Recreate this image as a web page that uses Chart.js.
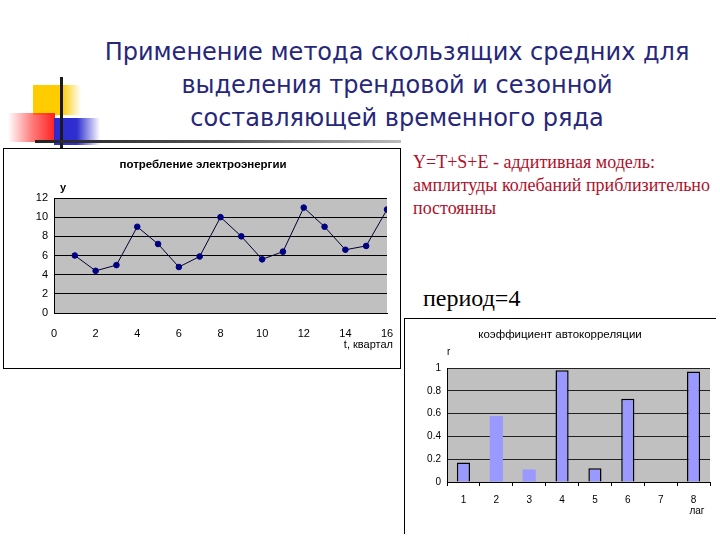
<!DOCTYPE html>
<html><head><meta charset="utf-8">
<script src="https://cdn.jsdelivr.net/npm/chart.js@4"></script>
<style>
html,body{margin:0;padding:0;background:#fff;width:720px;height:540px;overflow:hidden;position:relative;font-family:"Liberation Sans",Arial,sans-serif}
.abs{position:absolute}
#title{left:0;top:36px;width:794px;text-align:center;font-family:"DejaVu Sans",sans-serif;font-size:24px;line-height:33px;color:#26267a;white-space:nowrap}
#model{left:413px;top:151px;width:310px;font-family:"Liberation Serif",serif;font-size:18px;line-height:23px;color:#b0102a;white-space:nowrap}
#period{left:423px;top:285px;font-family:"Liberation Serif",serif;font-size:24px;color:#000}
.box{box-sizing:border-box}
</style></head><body>
<div class="abs" style="left:33px;top:85px;width:48px;height:30px;background:linear-gradient(to right,#ffcc00 0,#ffcc00 60%,rgba(255,204,0,0) 100%)"></div>
<div class="abs" style="left:8px;top:113px;width:47px;height:29px;background:linear-gradient(to left,#ff2020 0,rgba(255,40,40,0.6) 50%,rgba(255,60,60,0) 100%)"></div>
<div class="abs" style="left:54px;top:118px;width:46px;height:27px;background:linear-gradient(to right,#2a2ad0 0,#3030d0 50%,rgba(50,50,210,0) 100%)"></div>
<div class="abs" style="left:60px;top:77px;width:3px;height:71px;background:#1a1a1a"></div>
<div class="abs" style="left:35px;top:140px;width:366px;height:3px;background:linear-gradient(to right,#222 0,#555 50%,#bbb 100%)"></div>
<div id="title" class="abs">Применение метода скользящих средних для<br>выделения трендовой и сезонной<br>составляющей временного ряда</div>
<div id="model" class="abs">Y=T+S+E - аддитивная модель:<br>амплитуды колебаний приблизительно<br>постоянны</div>
<div id="period" class="abs">период=4</div>
<div class="abs box" style="left:3px;top:148px;width:398px;height:221px;border:1px solid #000"><div style="position:relative;width:396px;height:219px"><canvas id="c1"></canvas></div></div>
<div class="abs box" style="left:404px;top:318px;width:312px;height:216px;border-left:1px solid #000;border-top:1px solid #000"><div style="position:relative;width:310px;height:214px;margin-top:0"><canvas id="c2"></canvas></div></div>
<script>
// data
const quarters = [1,2,3,4,5,6,7,8,9,10,11,12,13,14,15,16];
const consumption = [6.0,4.4,5.0,9.0,7.2,4.8,5.9,10.0,8.0,5.6,6.4,11.0,9.0,6.6,7.0,10.8];
const lags = ['1','2','3','4','5','6','7','8'];
const acf = [0.17,0.58,0.11,0.98,0.12,0.73,0,0.97];
const lineTitle = 'потребление электроэнергии';
const barTitle = 'коэффициент автокорреляции';

const decor = {
  id:'decor',
  beforeDraw(chart, args, o){
    const {ctx, chartArea:a} = chart;
    ctx.save(); ctx.fillStyle = '#c0c0c0';
    ctx.fillRect(a.left, a.top, a.right-a.left, a.bottom-a.top); ctx.restore();
  },
  afterDraw(chart, args, o){
    const ctx = chart.ctx; ctx.save(); ctx.fillStyle='#000'; ctx.textBaseline='middle';
    (o.texts||[]).forEach(t=>{ ctx.font=t.font; ctx.textAlign=t.align||'left'; ctx.fillText(t.text,t.x,t.y); });
    ctx.restore();
  }
};
Chart.register(decor);
const tickFont = {family:'"Liberation Sans", Arial, sans-serif', size:11};

new Chart(document.getElementById('c1'), {
  type:'line',
  data:{datasets:[{data:quarters.map((t,i)=>({x:t,y:consumption[i]})), borderColor:'#000033', borderWidth:1,
    pointBackgroundColor:'#000080', pointBorderColor:'#000080', pointRadius:2.8, pointHoverRadius:2.8, tension:0}]},
  options:{responsive:true, maintainAspectRatio:false, devicePixelRatio:1, animation:false,
    layout:{padding:{top:49,right:13,left:0,bottom:0}},
    plugins:{legend:{display:false}, tooltip:{enabled:false},
      decor:{texts:[
        {text:lineTitle, x:199, y:16, align:'center', font:'bold 11.5px "Liberation Sans", Arial'},
        {text:'y', x:56, y:39, font:'bold 11px "Liberation Sans", Arial'},
        {text:'t, квартал', x:389, y:196, align:'right', font:'11px "Liberation Sans", Arial'}]}},
    scales:{
      x:{type:'linear', min:0, max:16, ticks:{stepSize:2, color:'#000', font:tickFont, padding:6},
        grid:{display:false}, border:{display:true,color:'#000'}, afterFit(s){s.height=55;}},
      y:{min:0, max:12, ticks:{stepSize:2, color:'#000', font:tickFont, padding:6},
        grid:{color:'#000', lineWidth:1, drawTicks:false}, border:{display:true,color:'#000'}, afterFit(s){s.width=50;}}
    }}
});

new Chart(document.getElementById('c2'), {
  type:'bar',
  data:{labels:lags, datasets:[{data:acf, backgroundColor:'#9999ff', borderColor:'#000',
    borderWidth:[1.5,0,0,1.5,1.5,1.5,1.5,1.5], barPercentage:0.4, categoryPercentage:1}]},
  options:{responsive:true, maintainAspectRatio:false, devicePixelRatio:1, animation:false,
    layout:{padding:{top:49,right:5,left:0,bottom:0}},
    plugins:{legend:{display:false}, tooltip:{enabled:false},
      decor:{texts:[
        {text:barTitle, x:155, y:16, align:'center', font:'11.5px "Liberation Sans", Arial'},
        {text:'r', x:42, y:33, font:'10px "Liberation Sans", Arial'},
        {text:'лаг', x:292, y:192, align:'center', font:'10px "Liberation Sans", Arial'}]}},
    scales:{
      x:{ticks:{color:'#000', font:{...tickFont,size:10}, padding:8},
        grid:{offset:true, drawOnChartArea:false, drawTicks:true, tickLength:4, color:'#000'},
        border:{display:true,color:'#000'}, afterFit(s){s.height=51;}},
      y:{min:0, max:1, ticks:{stepSize:0.2, color:'#000', font:{...tickFont,size:10}, padding:6,
          callback:v=>String(Math.round(v*10)/10)},
        grid:{color:'#222', lineWidth:1, drawTicks:false}, border:{display:true,color:'#000'}, afterFit(s){s.width=42;}}
    }}
});
</script>
</body></html>
